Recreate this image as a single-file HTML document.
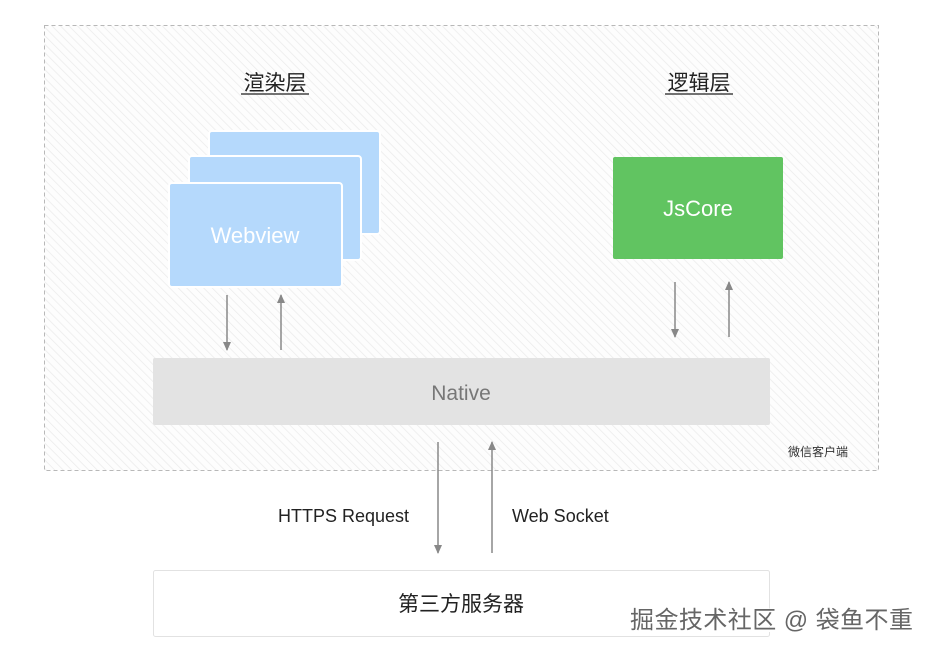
<!DOCTYPE html>
<html><head><meta charset="utf-8"><style>
html,body{margin:0;padding:0;background:#fff;}
svg{display:block;}
text{font-family:"Liberation Sans","Noto Sans CJK SC",sans-serif;}
</style></head><body>
<svg width="934" height="653" viewBox="0 0 934 653" xmlns="http://www.w3.org/2000/svg">
<defs>
<pattern id="h" width="6" height="6" patternUnits="userSpaceOnUse" patternTransform="rotate(-45)">
<rect width="6" height="6" fill="#fdfdfd"/>
<line x1="0" y1="0" x2="0" y2="6" stroke="#ebebeb" stroke-width="1.5"/>
</pattern>
<marker id="a" markerWidth="12" markerHeight="12" refX="8" refY="5" orient="auto" markerUnits="userSpaceOnUse">
<path d="M0,1 L9,5 L0,9 Z" fill="#888"/>
</marker>
</defs>
<rect x="44.5" y="25.5" width="834" height="445" fill="url(#h)" stroke="#b8b8b8" stroke-dasharray="4,3"/>
<text x="275" y="90" font-size="21" text-anchor="middle" fill="#222">渲染层</text>
<line x1="241" y1="94" x2="309" y2="94" stroke="#444" stroke-width="1.5"/>
<text x="699" y="90" font-size="21" text-anchor="middle" fill="#222">逻辑层</text>
<line x1="665" y1="94" x2="733" y2="94" stroke="#444" stroke-width="1.5"/>
<rect x="209" y="131" width="171" height="103" rx="3" fill="#b5d9fc" stroke="#fff" stroke-width="2"/>
<rect x="189" y="156" width="172" height="104" rx="3" fill="#b5d9fc" stroke="#fff" stroke-width="2"/>
<rect x="169" y="183" width="173" height="104" rx="3" fill="#b5d9fc" stroke="#fff" stroke-width="2"/>
<text x="255" y="243" font-size="22" text-anchor="middle" fill="#fff">Webview</text>
<rect x="613" y="157" width="170" height="102" rx="2" fill="#61c461"/>
<text x="698" y="216" font-size="22" text-anchor="middle" fill="#fff">JsCore</text>
<g stroke="#888" stroke-width="1.5">
<line x1="227" y1="295" x2="227" y2="350" marker-end="url(#a)"/>
<line x1="281" y1="350" x2="281" y2="295" marker-end="url(#a)"/>
<line x1="675" y1="282" x2="675" y2="337" marker-end="url(#a)"/>
<line x1="729" y1="337" x2="729" y2="282" marker-end="url(#a)"/>
<line x1="438" y1="442" x2="438" y2="553" marker-end="url(#a)"/>
<line x1="492" y1="553" x2="492" y2="442" marker-end="url(#a)"/>
</g>
<rect x="153" y="358" width="617" height="67" rx="2" fill="#e3e3e3"/>
<text x="461" y="400" font-size="21" text-anchor="middle" fill="#777">Native</text>
<text x="788" y="456" font-size="12" fill="#333">微信客户端</text>
<text x="409" y="522" font-size="18" text-anchor="end" fill="#222">HTTPS Request</text>
<text x="512" y="522" font-size="18" fill="#222">Web Socket</text>
<rect x="153.5" y="570.5" width="616" height="66" rx="2" fill="#fff" stroke="#e2e2e2"/>
<text x="461" y="611" font-size="21" text-anchor="middle" fill="#222">第三方服务器</text>
<text x="631" y="629" font-size="24" textLength="283" fill="#fff" stroke="#fff" stroke-width="3">掘金技术社区 @ 袋鱼不重</text>
<text x="630" y="628" font-size="24" textLength="283" fill="#666">掘金技术社区 @ 袋鱼不重</text>
</svg>
</body></html>
